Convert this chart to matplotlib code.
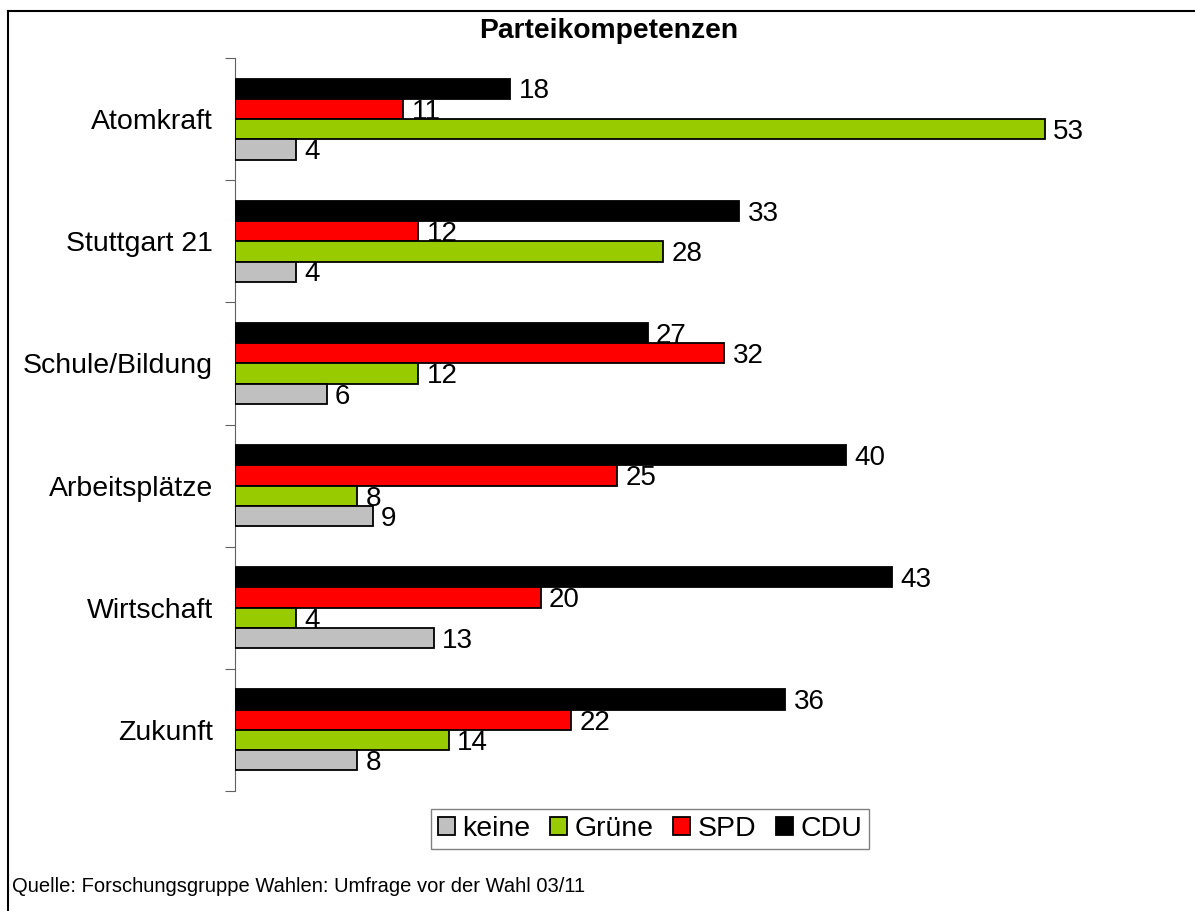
import matplotlib.pyplot as plt
import numpy as np
from matplotlib.patches import Patch
from matplotlib.lines import Line2D

plt.rcParams['font.family'] = ['Liberation Sans', 'DejaVu Sans']

categories = ["Atomkraft", "Stuttgart 21", "Schule/Bildung",
              "Arbeitsplätze", "Wirtschaft", "Zukunft"]
keine = [4, 4, 6, 9, 13, 8]
gruene = [53, 28, 12, 8, 4, 14]
spd = [11, 12, 32, 25, 20, 22]
cdu = [18, 33, 27, 40, 43, 36]

series = [("CDU", cdu, "#000000"), ("SPD", spd, "#ff0000"),
          ("Grüne", gruene, "#99cc00"), ("keine", keine, "#c0c0c0")]

W, H = 1195, 911
fig = plt.figure(figsize=(W / 100, H / 100), dpi=100)
ax = fig.add_axes([235 / W, 1 - 791 / H, (1152 - 235) / W, (791 - 58) / H])

y = np.arange(len(categories))
h = 0.166
for i, (name, vals, col) in enumerate(series):
    yy = y + (i - 1.5) * h
    ax.barh(yy, vals, height=h, color=col, edgecolor="black",
            linewidth=1.3, zorder=3)
    for v, p in zip(vals, yy):
        ax.annotate(str(v), (v, p), xytext=(6, -2), textcoords="offset points",
                    va="center", ha="left", fontsize=20, zorder=2)

ax.set_xlim(0, 60)
ax.set_ylim(len(categories) - 0.5, -0.5)
for s in ["top", "right", "bottom"]:
    ax.spines[s].set_visible(False)
ax.spines["left"].set_color("#606060")
ax.set_xticks([])
ax.set_yticks(np.arange(-0.5, len(categories), 1))
ax.set_yticklabels([])
ax.tick_params(axis="y", which="major", direction="out", length=7,
               color="#606060")
ax.set_yticks(y, minor=True)
ax.set_yticklabels(categories, minor=True, fontsize=20.5)
ax.tick_params(axis="y", which="minor", length=0, pad=16)

fig.text(609 / W, 1 - 31 / H, "Parteikompetenzen", ha="center", va="center",
         fontsize=20.3, fontweight="bold")

handles = [Patch(facecolor=c, edgecolor="black", linewidth=1.3)
           for _, _, c in series[::-1]]
labels = [n for n, _, _ in series[::-1]]
leg = fig.legend(handles, labels, loc="center", bbox_to_anchor=(650 / W, 1 - 829 / H),
                 ncol=4, fontsize=20.5, frameon=True, fancybox=False,
                 handlelength=0.6, handleheight=0.6, handletextpad=0.25,
                 columnspacing=0.7, borderpad=0.25, borderaxespad=0)
leg.get_frame().set_edgecolor("#606060")
leg.get_frame().set_linewidth(1.0)

fig.text(12 / W, 1 - 886 / H, "Quelle: Forschungsgruppe Wahlen: Umfrage vor der Wahl 03/11",
         ha="left", va="center", fontsize=14.5)

# outer frame (cut at right and bottom)
x0, y0 = 7.5 / W, 1 - 10.5 / H
fig.add_artist(Line2D([x0, x0], [0, y0], transform=fig.transFigure, color="black", lw=1.5))
fig.add_artist(Line2D([x0, 1], [y0, y0], transform=fig.transFigure, color="black", lw=1.5))

fig.savefig("out.png", dpi=100)
